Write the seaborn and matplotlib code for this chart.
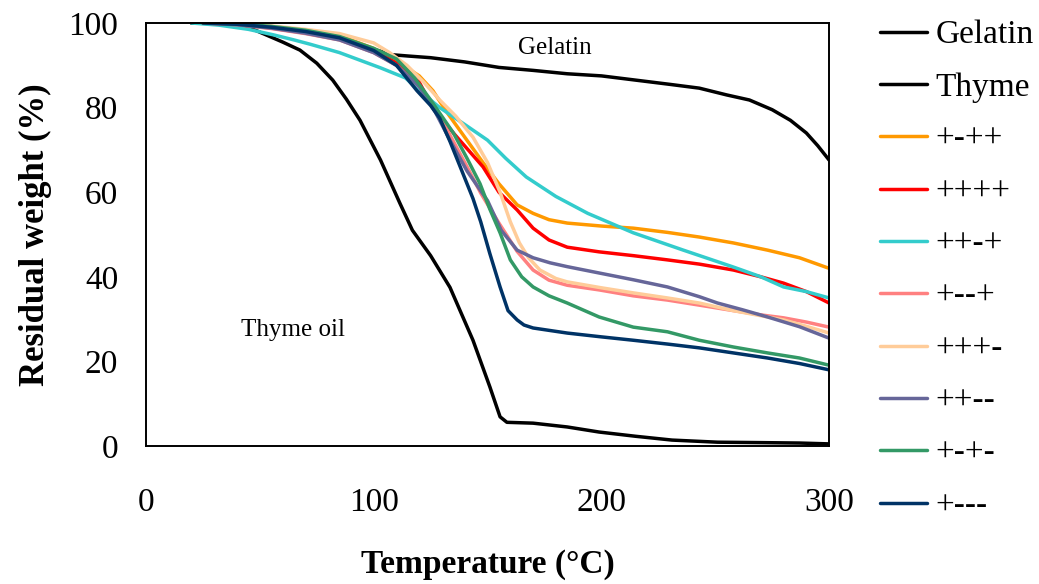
"""
TGA curves: residual weight vs temperature.
"""

import matplotlib
matplotlib.use("Agg")
import matplotlib.pyplot as plt
import seaborn as sns
import pandas as pd

# ---- data ----
gelatin_x = [20, 35, 50, 65, 80, 90, 100, 108, 115, 125, 140, 155, 170, 185, 200,
             215, 230, 243, 255, 265, 275, 283, 290, 295, 300]
gelatin_y = [100, 99.9, 99.5, 98.5, 97, 95.5, 93.8, 92.5, 92.2, 91.8, 90.8, 89.5,
             88.8, 88, 87.5, 86.5, 85.5, 84.6, 83, 81.8, 79.5, 77, 74, 71, 67.6]

thyme_x = [20, 35, 45, 51, 60, 67.6, 75, 82, 88, 94, 103, 111.5, 117, 125, 133.5,
           143.6, 151, 155.5, 158.5, 170, 185, 199, 215, 231, 251, 270, 287, 300]
thyme_y = [100, 99.8, 99, 97.6, 95.5, 93.6, 90.5, 86.5, 82, 77, 67.6, 57.4, 51, 45,
           37.5, 25, 14, 6.9, 5.6, 5.4, 4.5, 3.3, 2.3, 1.4, 0.9, 0.8, 0.7, 0.5]

s1_x = [25, 40, 55, 70, 85, 100, 110, 120, 126, 132, 140, 148, 155, 163, 170, 177,
        185, 200, 214, 229, 243, 258, 273, 287, 300]
s1_y = [100, 99.7, 99, 98, 97, 94, 91, 87.5, 84, 79, 73, 67, 62, 57, 55, 53.5,
        52.7, 52, 51.5, 50.5, 49.4, 48, 46.3, 44.5, 42]

s2_x = [25, 40, 55, 70, 85, 100, 110, 120, 126, 135, 148, 155, 163, 170, 177, 185,
        199, 214, 229, 243, 258, 270, 280, 290, 300]
s2_y = [100, 99.7, 99, 97.8, 96.5, 93.5, 90.5, 86, 80, 74, 66, 60, 55.8, 51.5,
        48.7, 47, 45.9, 45, 44, 43, 41.6, 40, 38.5, 36.5, 33.8]

s3_x = [20, 32, 45, 56, 65, 72, 85, 95, 103, 114, 120, 129, 140, 150, 158, 167,
        180, 194, 214, 236, 258, 270, 280, 290, 300]
s3_y = [100, 99.5, 98.5, 97.2, 96, 95, 93, 91, 89.4, 87, 84, 80, 76, 72.3, 68,
        63.6, 59, 55, 50.4, 46.3, 42.3, 40, 37.6, 36.5, 35]

s4_x = [25, 40, 55, 70, 85, 100, 110, 120, 128, 135, 141, 147, 155, 163, 170, 177,
        185, 199, 214, 229, 243, 258, 270, 280, 290, 300]
s4_y = [100, 99.6, 98.7, 97.5, 96, 93, 90, 85, 79, 72, 66, 59.8, 52.7, 46, 41.6,
        39.2, 38, 36.9, 35.5, 34.5, 33.3, 32, 31, 30.3, 29.3, 28.1]

s5_x = [25, 40, 55, 70, 85, 100, 107, 114.6, 122, 129, 136, 143.6, 150, 155.5, 160,
        164, 168, 173, 180, 185, 200, 214, 229, 243, 258, 270, 280, 290, 300]
s5_y = [100, 99.8, 99.3, 98.5, 97.5, 95.3, 93, 90, 86, 81.8, 78, 73, 67, 60, 53,
        48, 44.5, 41.6, 39.6, 38.8, 37.4, 36.2, 35, 33.8, 32, 30.8, 29.8, 28.3, 26.7]

s6_x = [25, 40, 55, 70, 85, 100, 110, 120, 127, 133.5, 141, 150, 156, 163, 170,
        177.5, 185, 199, 214, 229, 243, 251, 262, 273, 287, 300]
s6_y = [100, 99.6, 98.8, 97.6, 96, 93, 90, 85, 79, 72.3, 65, 58, 51, 46.3, 44.5,
        43.3, 42.4, 40.9, 39.3, 37.6, 35.3, 33.8, 32.2, 30.5, 28.2, 25.5]

s7_x = [25, 40, 55, 70, 85, 100, 110, 118, 125, 135, 141, 146.7, 151, 155.5, 160,
        165, 170, 177, 185, 199, 214, 229, 243, 258, 273, 287, 300]
s7_y = [100, 99.8, 99.2, 98.3, 96.8, 94, 91.5, 87, 81.8, 74, 68, 62, 56, 50.4, 44,
        40, 37.6, 35.5, 33.8, 30.5, 28.1, 27, 25, 23.4, 22, 20.8, 19.1]

s8_x = [25, 40, 55, 70, 85, 100, 110, 119, 125, 129, 133.5, 138, 143.6, 147, 151,
        155.5, 159, 163, 166, 170, 185, 200, 214, 229, 243, 258, 273, 287, 300]
s8_y = [100, 99.7, 99, 98, 96.5, 93.5, 90, 84, 80.5, 77.5, 72, 66, 58.5, 53, 45.5,
        37.6, 32, 29.8, 28.6, 27.9, 26.7, 25.8, 25, 24.1, 23.2, 22, 20.8, 19.5, 18]

labels = ["Gelatin", "Thyme", "+-++", "++++", "++-+", "+--+",
          "+++-", "++--", "+-+-", "+---"]
colors = ["#000000", "#000000", "#FF9900", "#FF0000", "#33CCCC", "#FF8080",
          "#FFCC99", "#666699", "#339966", "#003366"]
series_x = [gelatin_x, thyme_x, s1_x, s2_x, s3_x, s4_x, s5_x, s6_x, s7_x, s8_x]
series_y = [gelatin_y, thyme_y, s1_y, s2_y, s3_y, s4_y, s5_y, s6_y, s7_y, s8_y]

sns.set_style("white")
plt.rcParams["font.family"] = ["Liberation Serif", "DejaVu Serif"]
plt.rcParams["text.color"] = "black"
plt.rcParams["axes.labelcolor"] = "black"
plt.rcParams["xtick.color"] = "black"
plt.rcParams["ytick.color"] = "black"

fig = plt.figure(figsize=(10.39, 5.84), dpi=100)
ax = fig.add_axes([0.1405, 0.2363, 0.6575, 0.7243])

for name, xs, ys, col in zip(labels, series_x, series_y, colors):
    df = pd.DataFrame({"temp": xs, "weight": ys})
    sns.lineplot(data=df, x="temp", y="weight", ax=ax, color=col,
                 linewidth=2.5, label=name, sort=False)

ax.set_xlim(0, 300)
ax.set_ylim(0, 100)
ax.set_xticks([0, 100, 200, 300])
ax.set_yticks([0, 20, 40, 60, 80, 100])
ax.tick_params(axis="x", length=0, pad=30, labelsize=24)
ax.tick_params(axis="y", length=0, pad=20, labelsize=24)

for sp in ax.spines.values():
    sp.set_visible(True)
    sp.set_color("black")
    sp.set_linewidth(1.4)

ax.set_xlabel("Temperature (\u00b0C)", fontsize=24, fontweight="bold", labelpad=22)
ax.set_ylabel("Residual weight (%)", fontsize=25, fontweight="bold", labelpad=12)

ax.text(179.6, 94.1, "Gelatin", fontsize=18, ha="center", va="center")
ax.text(64.6, 27.4, "Thyme oil", fontsize=18, ha="center", va="center")

handles, lbls = ax.get_legend_handles_labels()
ax.legend_.remove()
fig.legend(handles, lbls, loc="upper left", bbox_to_anchor=(0.847, 0.966),
           frameon=False, fontsize=24, handlelength=1.4, handletextpad=0.27,
           labelspacing=0.655, borderpad=0, borderaxespad=0)

plt.savefig("out.png", dpi=100)
plt.close()
